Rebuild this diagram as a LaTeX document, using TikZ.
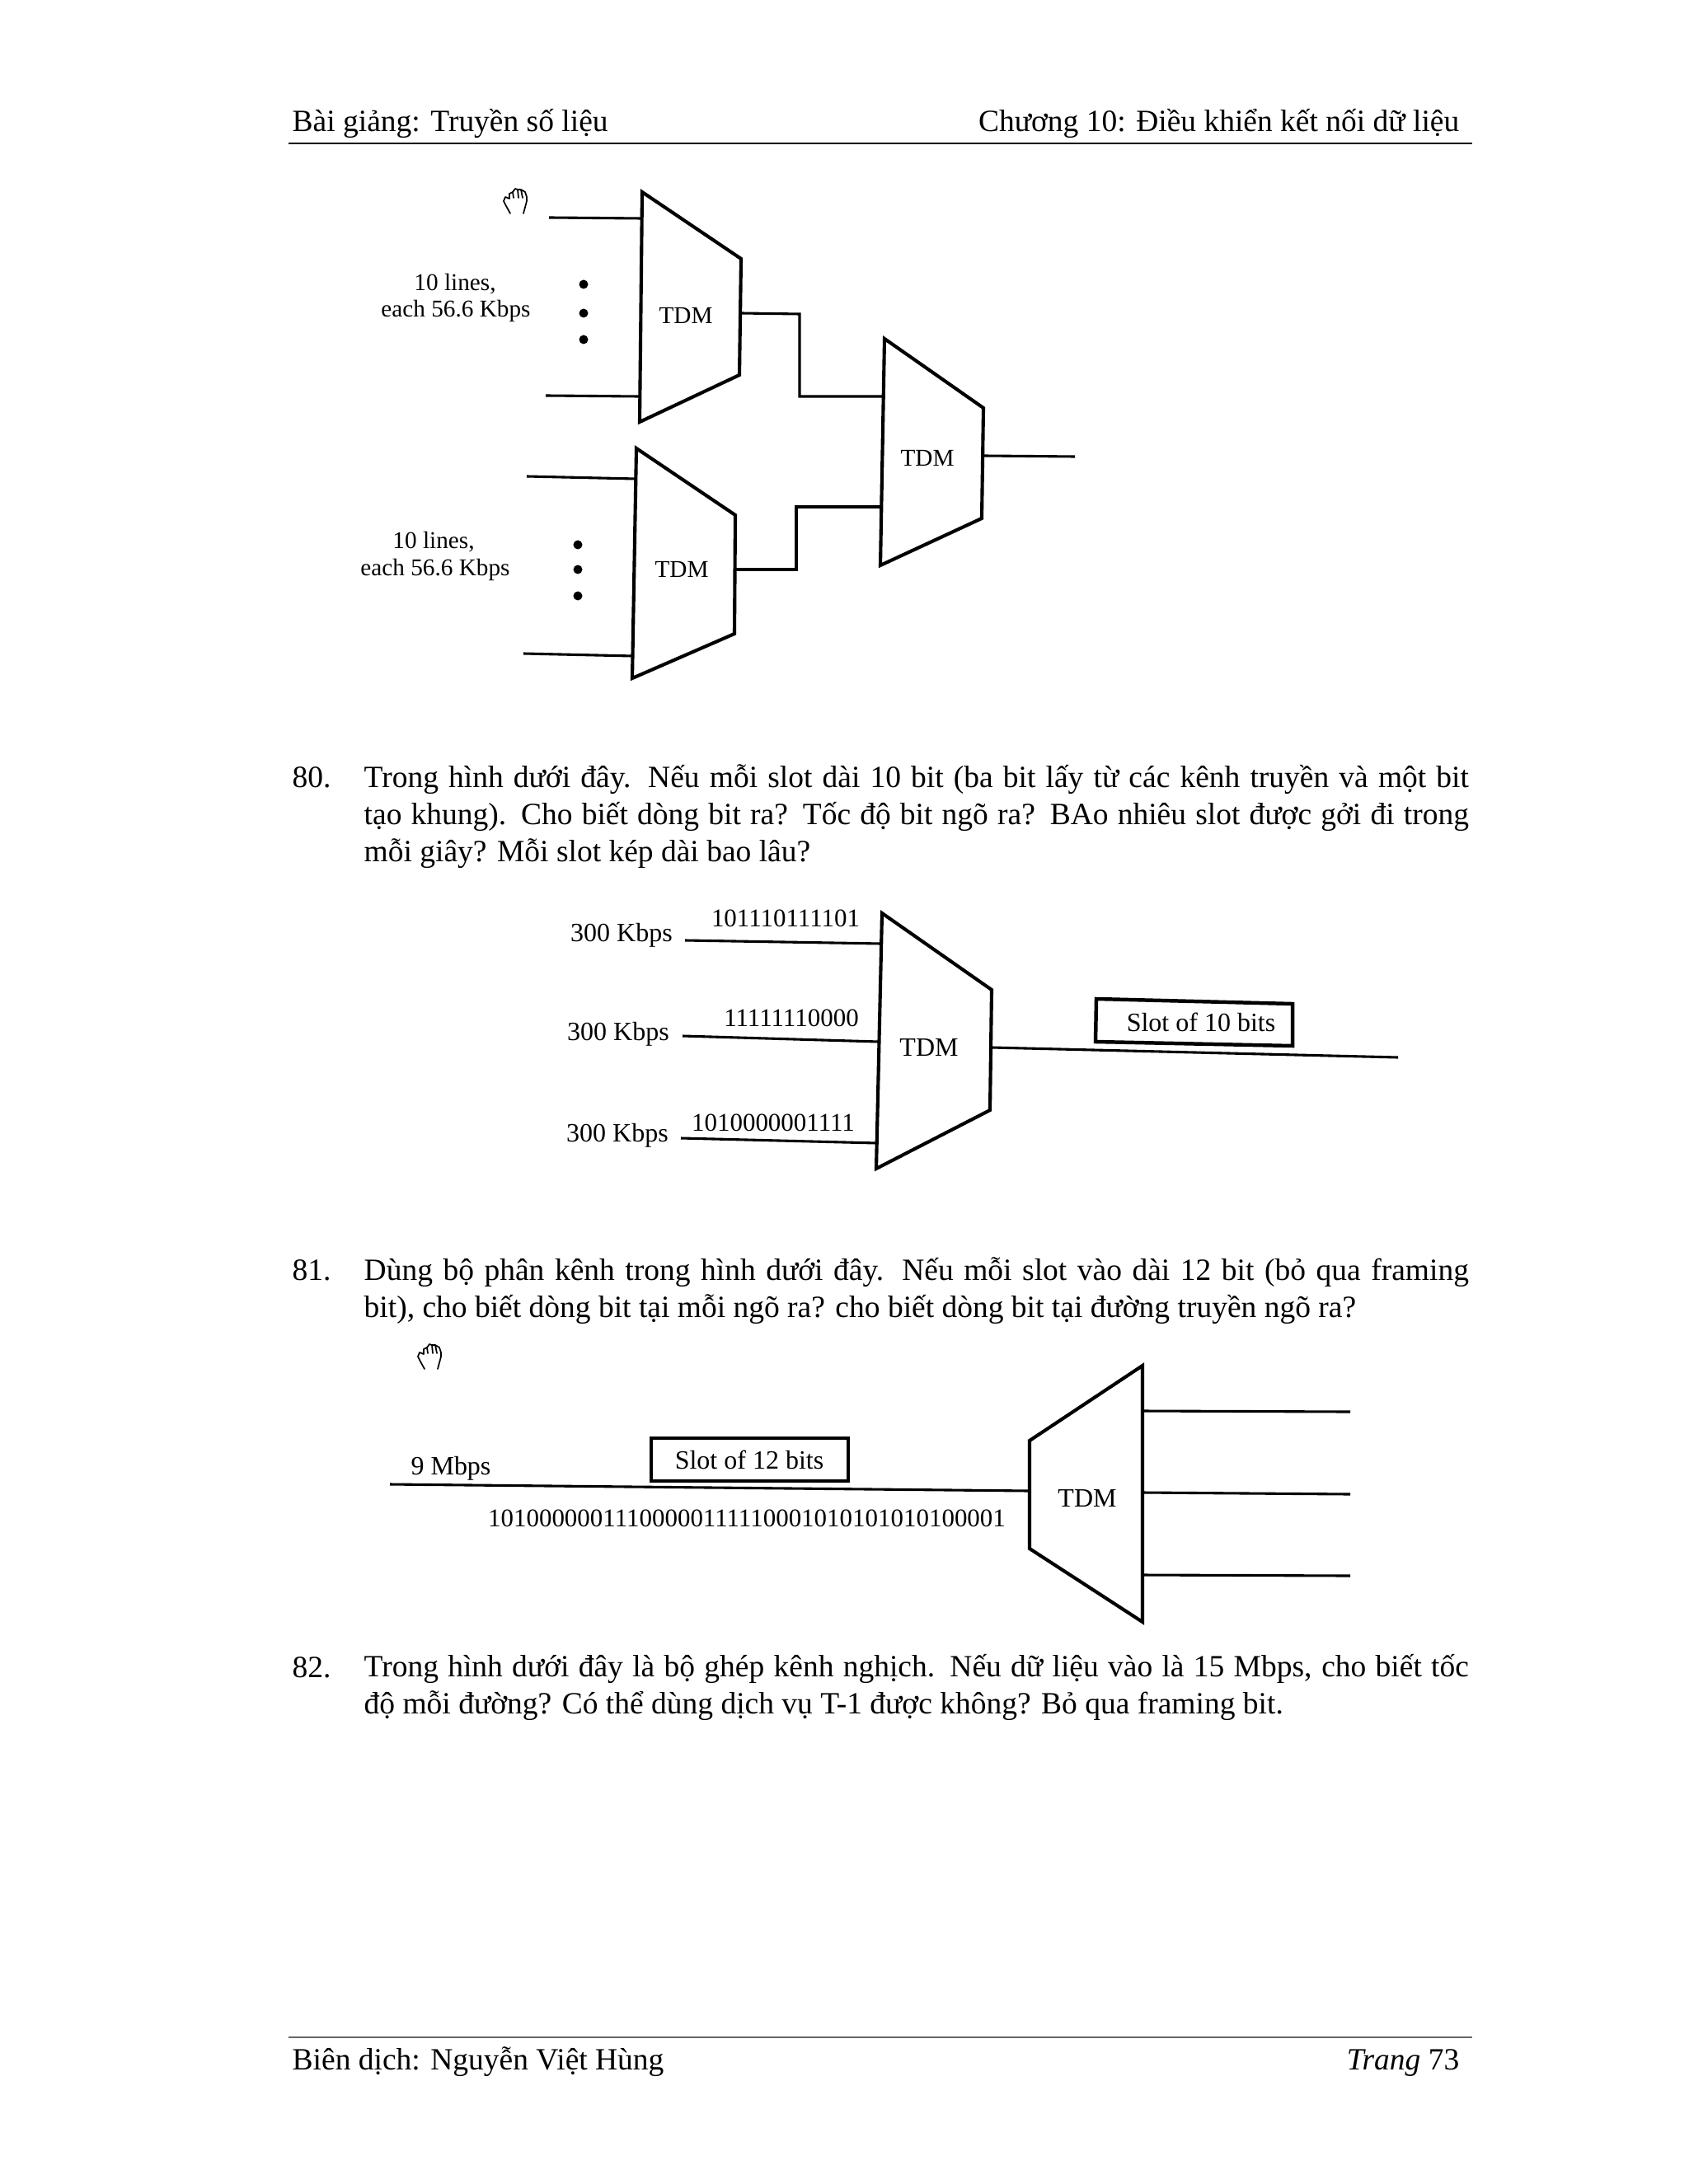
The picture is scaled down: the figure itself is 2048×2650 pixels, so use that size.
\documentclass[tikz,border=0pt]{standalone}
\usepackage{fontspec}
\setmainfont{Liberation Serif}
\tikzset{
  x=0.2907pt,y=-0.2907pt,
  mux/.style={draw=black,line width=1.2pt,line join=miter},
  wire/.style={draw=black,line width=0.9pt},
  slotbox/.style={draw=black,line width=1.3pt},
  lbl/.style={inner sep=0pt,font=\fontsize{8.5}{10}\selectfont},
  lblb/.style={inner sep=0pt,font=\fontsize{9.3}{11}\selectfont},
  bits/.style={inner sep=0pt,font=\fontsize{9}{11}\selectfont},
  body/.style={inner sep=0pt,anchor=north west,text width=389.6pt,align=justify,font=\fontsize{10.9}{13.05}\selectfont},
  pagetext/.style={inner sep=0pt,anchor=base west,font=\fontsize{10.9}{13}\selectfont},
  pagetextr/.style={inner sep=0pt,anchor=base east,font=\fontsize{10.9}{13}\selectfont},
  dotmark/.style={circle,fill=black,inner sep=0pt,minimum size=3.2pt},
  hand/.style={draw=black,line width=0.5pt,line cap=round,line join=round}
}
\newcommand{\handicon}[2]{%
  \draw[hand] (#1-9,#2+15) -- (#1-14,#2+6) -- (#1-17,#2) -- (#1-15,#2-5) -- (#1-10,#2-3)
   (#1-10,#2-3) -- (#1-10,#2-9) -- (#1-6,#2-11) -- (#1-5,#2-4)
   (#1-6,#2-11) -- (#1-3,#2-15) -- (#1,#2-14) -- (#1+1,#2-4)
   (#1,#2-14) -- (#1+4,#2-14) -- (#1+6,#2-4)
   (#1+4,#2-14) -- (#1+9,#2-11) -- (#1+11,#2-5) -- (#1+11,#2) -- (#1+7,#2+15);
}
\begin{document}
\begin{tikzpicture}
\useasboundingbox (0,0) rectangle (2048,2650);
\fill[white] (0,0) rectangle (2048,2650);
% header
\node[pagetext] (hl) at (354,160) {Bài giảng: Truyền số liệu};
\node[pagetextr] (hr) at (1771,160) {Chương 10: Điều khiển kết nối dữ liệu};
\draw[black,line width=0.5pt] (350,174) -- (1786,174);
% footer
\draw[black!60,line width=0.4pt] (350,2472) -- (1786,2472);
\node[pagetext] (fl) at (354,2511) {Biên dịch: Nguyễn Việt Hùng};
\node[pagetextr] (fr) at (1771,2511) {\textit{Trang} 73};
% diagram 1
\handicon{628}{244}
\draw[mux] (779,233) -- (899,314) -- (897,455) -- (776,512) -- cycle;
\coordinate (m1a) at (778,265);
\coordinate (m1b) at (775,481);
\coordinate (m1o) at (899,380);
\node[lbl] (m1t) at (832,383) {TDM};
\draw[mux] (772,544) -- (892,625) -- (891,769) -- (767,823) -- cycle;
\coordinate (m2a) at (771,581);
\coordinate (m2b) at (768,796);
\coordinate (m2o) at (892,691);
\node[lbl] (m2t) at (827,691) {TDM};
\draw[mux] (1073,411) -- (1193,495) -- (1191,629) -- (1068,686) -- cycle;
\coordinate (m3a) at (1071,481);
\coordinate (m3b) at (1069,615);
\coordinate (m3o) at (1193,553);
\node[lbl] (m3t) at (1125,556) {TDM};
\coordinate (a1) at (666,264);
\coordinate (a2) at (662,480);
\coordinate (a3) at (639,578);
\coordinate (a4) at (635,793);
\coordinate (a5) at (1304,554);
\draw[wire] (a1) -- (m1a);
\draw[wire] (a2) -- (m1b);
\draw[wire] (a3) -- (m2a);
\draw[wire] (a4) -- (m2b);
\draw[wire] (m3o) -- (a5);
\draw[wire] (m1o) -- (970,381) |- (m3a);
\draw[wire] (m2o) -- (966,691) |- (m3b);
\node[dotmark] (d1) at (708,345) {};
\node[dotmark] (d2) at (708,380) {};
\node[dotmark] (d3) at (708,412) {};
\node[dotmark] (d4) at (701,661) {};
\node[dotmark] (d5) at (701,691) {};
\node[dotmark] (d6) at (701,723) {};
\node[lbl] (l1) at (552,345) {10 lines,};
\node[lbl] (l2) at (553,377) {each 56.6 Kbps};
\node[lbl] (l3) at (526,658) {10 lines,};
\node[lbl] (l4) at (528,691) {each 56.6 Kbps};
% question 80
\node[body] (q80) at (441,927) {Trong hình dưới đây. Nếu mỗi slot dài 10 bit (ba bit lấy từ các kênh truyền và một bit\linebreak tạo khung). Cho biết dòng bit ra? Tốc độ bit ngõ ra? BAo nhiêu slot được gởi đi trong\linebreak mỗi giây? Mỗi slot kép dài bao lâu?};
\node[pagetext] (n80) at (354,955) {80.};
% diagram 2
\draw[mux] (1070,1108) -- (1203,1201) -- (1201,1347) -- (1063,1418) -- cycle;
\coordinate (m4a) at (1069,1145);
\coordinate (m4b) at (1066,1264);
\coordinate (m4c) at (1064,1387);
\coordinate (m4o) at (1203,1271);
\node[lblb] (m4t) at (1127,1271) {TDM};
\coordinate (b1) at (831,1141);
\coordinate (b2) at (828,1257);
\coordinate (b3) at (826,1381);
\coordinate (b4) at (1696,1283);
\draw[wire] (b1) -- (m4a);
\draw[wire] (b2) -- (m4b);
\draw[wire] (b3) -- (m4c);
\draw[wire] (m4o) -- (b4);
\node[lblb] (k1) at (754,1135) {300 Kbps};
\node[lblb] (k2) at (750,1255) {300 Kbps};
\node[lblb] (k3) at (749,1378) {300 Kbps};
\node[bits] (s1) at (953,1114) {101110111101};
\node[bits] (s2) at (960,1235) {11111110000};
\node[bits] (s3) at (938,1362) {1010000001111};
\draw[slotbox] (1330,1212) -- (1568,1218) -- (1568,1269) -- (1329,1264) -- cycle;
\node[lblb] (box10) at (1457,1240) {Slot of 10 bits};
% question 81
\node[body] (q81) at (441,1525) {Dùng bộ phân kênh trong hình dưới đây. Nếu mỗi slot vào dài 12 bit (bỏ qua framing\linebreak bit), cho biết dòng bit tại mỗi ngõ ra? cho biết dòng bit tại đường truyền ngõ ra?};
\node[pagetext] (n81) at (354,1553) {81.};
% diagram 3
\handicon{524}{1646}
\draw[mux] (1386,1657) -- (1386,1968) -- (1249,1879) -- (1249,1748) -- cycle;
\coordinate (m5i) at (1249,1809);
\coordinate (m5a) at (1386,1712);
\coordinate (m5b) at (1386,1811);
\coordinate (m5c) at (1386,1911);
\node[lblb] (m5t) at (1319,1818) {TDM};
\coordinate (c0) at (473,1801);
\coordinate (c1) at (1638,1713);
\coordinate (c2) at (1638,1813);
\coordinate (c3) at (1638,1912);
\draw[wire] (c0) -- (m5i);
\draw[wire] (m5a) -- (c1);
\draw[wire] (m5b) -- (c2);
\draw[wire] (m5c) -- (c3);
\draw[slotbox] (790,1745) rectangle (1029,1797);
\node[lblb] (box12) at (909,1771) {Slot of 12 bits};
\node[lblb] (mb) at (547,1782) {9 Mbps};
\node[bits] (bitsrow) at (906,1842) {10100000011100000111110001010101010100001};
% question 82
\node[body] (q82) at (441,2007) {Trong hình dưới đây là bộ ghép kênh nghịch. Nếu dữ liệu vào là 15 Mbps, cho biết tốc\linebreak độ mỗi đường? Có thể dùng dịch vụ T-1 được không? Bỏ qua framing bit.};
\node[pagetext] (n82) at (354,2035) {82.};
\end{tikzpicture}
\end{document}
